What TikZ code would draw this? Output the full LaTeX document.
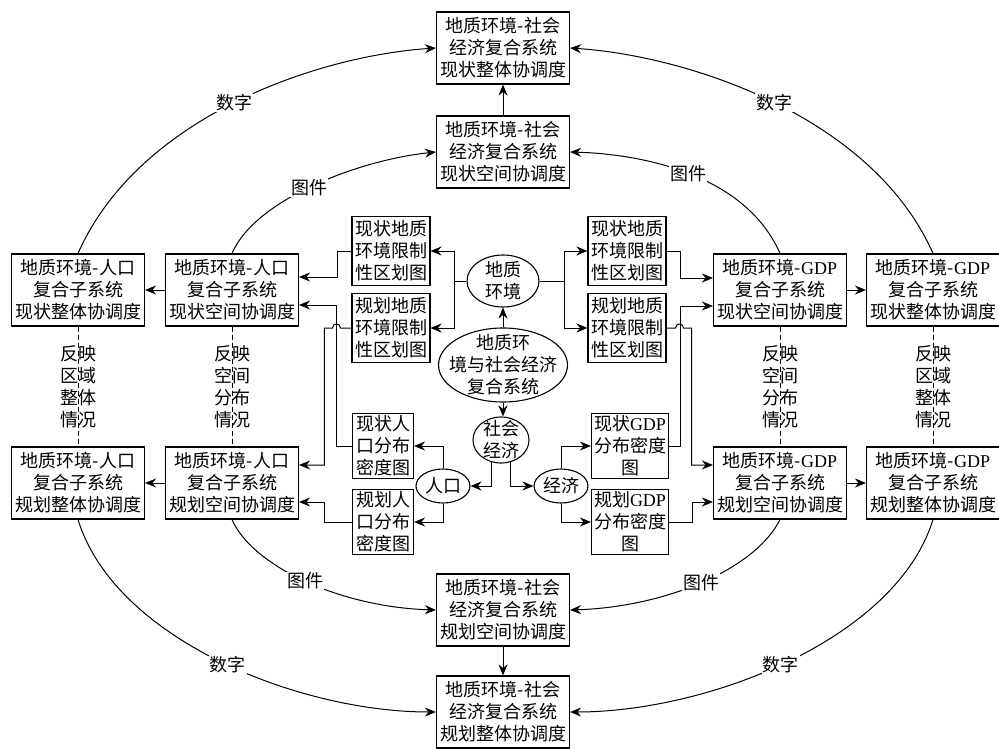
\documentclass[tikz,border=0pt]{standalone}
\usepackage{fontspec}
\setmainfont{Noto Sans CJK SC}
\newfontfamily\lat{Liberation Serif}
\usetikzlibrary{shapes.geometric,arrows.meta}
\newcommand{\gdp}{{\lat GDP}}
\tikzset{
  bigbox/.style={draw, line width=1.1pt, minimum width=133pt, minimum height=72pt, align=center, inner sep=1pt},
  smallbox/.style={draw, line width=1.1pt, align=center, inner sep=1pt},
  ell/.style={draw, ellipse, line width=1.1pt, inner sep=0pt},
  arr/.style={-{Stealth[length=11pt,width=9pt]}, line width=1pt},
  dashline/.style={line width=1pt, dash pattern=on 5pt off 3pt},
  lbl/.style={fill=white, inner sep=1pt}
}
\begin{document}
\begin{tikzpicture}[x=1pt, y=-1pt, font=\fontsize{18}{22}\selectfont]
\useasboundingbox (0,0) rectangle (999,749);

% social-economic system
\node[bigbox] (sxzt) at (503,48) {地质环境-社会\\经济复合系统\\现状整体协调度};
\node[bigbox, below of=sxzt, node distance=104pt] (sxkj) {地质环境-社会\\经济复合系统\\现状空间协调度};
\node[bigbox] (sgzt) at (503,712) {地质环境-社会\\经济复合系统\\规划整体协调度};
\node[bigbox, above of=sgzt, node distance=102pt] (sgkj) {地质环境-社会\\经济复合系统\\规划空间协调度};

% population
\node[bigbox] (rxkj) at (232,290) {地质环境-人口\\复合子系统\\现状空间协调度};
\node[bigbox, left of=rxkj, node distance=154pt] (rxzt) {地质环境-人口\\复合子系统\\现状整体协调度};
\node[bigbox, below of=rxkj, node distance=193pt] (rgkj) {地质环境-人口\\复合子系统\\规划空间协调度};
\node[bigbox, left of=rgkj, node distance=154pt] (rgzt) {地质环境-人口\\复合子系统\\规划整体协调度};

% GDP
\node[bigbox] (gxkj) at (780,290) {地质环境-\gdp\\复合子系统\\现状空间协调度};
\node[bigbox, right of=gxkj, node distance=153pt] (gxzt) {地质环境-\gdp\\复合子系统\\现状整体协调度};
\node[bigbox, below of=gxkj, node distance=193pt] (ggkj) {地质环境-\gdp\\复合子系统\\规划空间协调度};
\node[bigbox, right of=ggkj, node distance=153pt] (ggzt) {地质环境-\gdp\\复合子系统\\规划整体协调度};

% ellipses
\node[ell, minimum width=72pt, minimum height=52pt, label={[align=center]center:{地质\\环境}}] (dz) at (503,281) {};
\node[ell, minimum width=129pt, minimum height=74pt, label={[align=center]center:{地质环\\境与社会经济\\复合系统}}] (zh) at (503,365) {};
\node[ell, minimum width=56pt, minimum height=46pt, label={[align=center]center:{社会\\经济}}] (sh) at (501,440) {};
\node[ell, minimum width=54pt, minimum height=34pt, label=center:人口] (rk) at (443,486) {};
\node[ell, minimum width=54pt, minimum height=34pt, label=center:经济] (jj) at (561,486) {};

% maps
\node[smallbox, minimum width=78pt, minimum height=69pt] (dxL) at (391,251) {现状地质\\环境限制\\性区划图};
\node[smallbox, minimum width=78pt, minimum height=69pt, below of=dxL, node distance=77pt] (dgL) {规划地质\\环境限制\\性区划图};
\node[smallbox, minimum width=61pt, minimum height=65pt] (rx) at (383,446) {现状人\\口分布\\密度图};
\node[smallbox, minimum width=61pt, minimum height=65pt, below of=rx, node distance=76pt] (rg) {规划人\\口分布\\密度图};
\node[smallbox, minimum width=78pt, minimum height=69pt] (dxR) at (627,251) {现状地质\\环境限制\\性区划图};
\node[smallbox, minimum width=78pt, minimum height=69pt, below of=dxR, node distance=77pt] (dgR) {规划地质\\环境限制\\性区划图};
\node[smallbox, minimum width=77pt, minimum height=65pt] (gx) at (630,446) {现状\gdp\\分布密度\\图};
\node[smallbox, minimum width=77pt, minimum height=65pt, below of=gx, node distance=76pt] (gg) {规划\gdp\\分布密度\\图};

% centre
\draw[arr] (zh.north) -- (dz.south);
\draw[arr] (zh.south) -- (zh.south |- sh.north);
\draw[arr] (dz.west) -- ++(-12,0) |- (dxL.east);
\draw[arr] (dz.west) -- ++(-12,0) |- (dgL.east);
\draw[arr] (dz.east) -- ++(25,0) |- (dxR.west);
\draw[arr] (dz.east) -- ++(25,0) |- (dgR.west);
\draw[arr] (sh.-112) |- (rk.east);
\draw[arr] (sh.-68) |- (jj.west);
\draw[arr] (rk.north) |- (rx.east);
\draw[arr] (rk.south) |- (rg.east);
\draw[arr] (jj.north) |- (gx.west);
\draw[arr] (jj.south) |- (gg.west);

% maps to subsystems, left
\draw[arr] (dxL.west) -- ++(-14,0) |- ([yshift=13pt]rxkj.east);
\draw[arr] (rx.west) -- ++(-15,0) |- ([yshift=-15pt]rxkj.east);
\draw[arr] (dgL.west) -- ++(-11,0) .. controls +(0,-5.3) and +(0,-5.3) .. ++(-8,0) -- ++(-8,0) |- ([yshift=18pt]rgkj.east);
\draw[arr] (rg.west) -- ++(-27,0) |- ([yshift=-19pt]rgkj.east);

% maps to subsystems, right
\draw[arr] (dxR.east) -- ++(14,0) |- ([yshift=12pt]gxkj.west);
\draw[arr] (gx.east) -- ++(11.5,0) |- ([yshift=-16pt]gxkj.west);
\draw[arr] (dgR.east) -- ++(9,0) .. controls +(0,-5.3) and +(0,-5.3) .. ++(8,0) -- ++(8,0) |- ([yshift=18pt]ggkj.west);
\draw[arr] (gg.east) -- ++(23.5,0) |- ([yshift=-19pt]ggkj.west);

% spatial to whole
\draw[arr] (rxkj.west) -- (rxzt.east);
\draw[arr] (rgkj.west) -- (rgzt.east);
\draw[arr] (gxkj.east) -- (gxzt.west);
\draw[arr] (ggkj.east) -- (ggzt.west);
\draw[arr] (sxkj.north) -- (sxzt.south);
\draw[arr] (sgkj.south) -- (sgzt.north);

% dashed links
\draw[dashline] (rxzt.south) -- (rgzt.north) node[midway, align=center] {反映\\区域\\整体\\情况};
\draw[dashline] (rxkj.south) -- (rgkj.north) node[midway, align=center] {反映\\空间\\分布\\情况};
\draw[dashline] (gxkj.south) -- (ggkj.north) node[midway, align=center] {反映\\空间\\分布\\情况};
\draw[dashline] (gxzt.south) -- (ggzt.north) node[midway, align=center] {反映\\区域\\整体\\情况};

% arcs
\draw[arr] (rxzt.north) .. controls +(60,-136) and +(-120,8) .. (sxzt.west) node[lbl, pos=0.5] {数字};
\draw[arr] (rxkj.north) .. controls +(23,-54) and +(-77,8) .. (sxkj.west) node[lbl, pos=0.48] {图件};
\draw[arr] (gxkj.north) .. controls +(-35,-80) and +(70,2) .. (sxkj.east) node[lbl, pos=0.5] {图件};
\draw[arr] (gxzt.north) .. controls +(-60,-136) and +(120,8) .. (sxzt.east) node[lbl, pos=0.5] {数字};
\draw[arr] (rgkj.south) .. controls +(20,46) and +(-97,-3) .. (sgkj.west) node[lbl, pos=0.5] {图件};
\draw[arr] (ggkj.south) .. controls +(-25,50) and +(95,-3) .. (sgkj.east) node[lbl, pos=0.5] {图件};
\draw[arr] (rgzt.south) .. controls +(37,120) and +(-137,0) .. (sgzt.west) node[lbl, pos=0.52] {数字};
\draw[arr] (ggzt.south) .. controls +(-37,120) and +(137,0) .. (sgzt.east) node[lbl, pos=0.52] {数字};
\end{tikzpicture}
\end{document}
